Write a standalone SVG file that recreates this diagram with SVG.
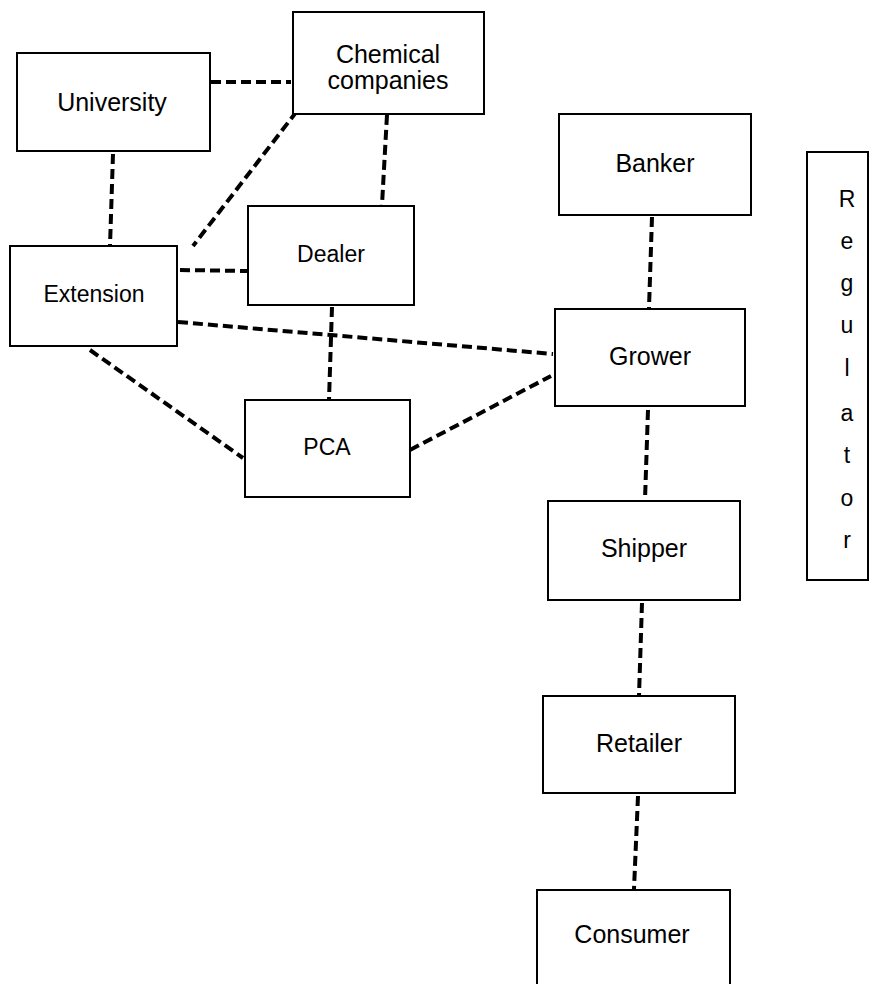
<svg xmlns="http://www.w3.org/2000/svg" width="870" height="984" viewBox="0 0 870 984">
<style>
.box{fill:#fff;stroke:#000;stroke-width:2}
.lbl{font-family:"Liberation Sans",Arial,sans-serif;font-size:25px;fill:#000;text-anchor:middle}
.sm{font-size:23px}
.con line{stroke:#000;stroke-width:4;stroke-dasharray:10 5;fill:none}
</style>
<rect width="870" height="984" fill="#fff"/>
<g class="con" id="connectors">
<line x1="211" y1="82" x2="291" y2="82"/>
<line x1="297" y1="111" x2="193" y2="246"/>
<line x1="387" y1="115" x2="382" y2="205"/>
<line x1="113" y1="154" x2="110" y2="246"/>
<line x1="180" y1="270" x2="247" y2="271"/>
<line x1="178" y1="322" x2="553" y2="354"/>
<line x1="332" y1="307" x2="329" y2="400"/>
<line x1="90" y1="350" x2="243" y2="458"/>
<line x1="410" y1="450" x2="551" y2="376"/>
<line x1="652" y1="217" x2="649" y2="308"/>
<line x1="648" y1="410" x2="645" y2="500"/>
<line x1="642" y1="603" x2="639" y2="696"/>
<line x1="638" y1="796" x2="634" y2="889"/>
</g>
<g id="university"><rect class="box" x="17" y="53" width="193" height="98"/><text class="lbl" x="112" y="111">University</text></g>
<g id="chemical"><rect class="box" x="293" y="12" width="191" height="102"/><text class="lbl" x="388" y="63">Chemical</text><text class="lbl" x="388" y="89">companies</text></g>
<g id="extension"><rect class="box" x="10" y="246" width="167" height="100"/><text class="lbl sm" x="94" y="302">Extension</text></g>
<g id="dealer"><rect class="box" x="248" y="206" width="166" height="99"/><text class="lbl sm" x="331" y="262">Dealer</text></g>
<g id="pca"><rect class="box" x="245" y="400" width="165" height="97"/><text class="lbl sm" x="327" y="455">PCA</text></g>
<g id="banker"><rect class="box" x="559" y="114" width="192" height="101"/><text class="lbl" x="655" y="172">Banker</text></g>
<g id="grower"><rect class="box" x="555" y="309" width="190" height="97"/><text class="lbl" x="650" y="365">Grower</text></g>
<g id="shipper"><rect class="box" x="548" y="501" width="192" height="99"/><text class="lbl" x="644" y="557">Shipper</text></g>
<g id="retailer"><rect class="box" x="543" y="696" width="192" height="97"/><text class="lbl" x="639" y="752">Retailer</text></g>
<g id="consumer"><rect class="box" x="537" y="890" width="193" height="110"/><text class="lbl" x="632" y="943">Consumer</text></g>
<g id="regulator"><rect class="box" x="807" y="152" width="61" height="428"/>
<text class="lbl sm" x="847" y="207">R</text>
<text class="lbl sm" x="847" y="249">e</text>
<text class="lbl sm" x="847" y="291">g</text>
<text class="lbl sm" x="847" y="333">u</text>
<text class="lbl sm" x="847" y="376">l</text>
<text class="lbl sm" x="847" y="421">a</text>
<text class="lbl sm" x="847" y="463">t</text>
<text class="lbl sm" x="847" y="506">o</text>
<text class="lbl sm" x="847" y="548">r</text>
</g>
</svg>
